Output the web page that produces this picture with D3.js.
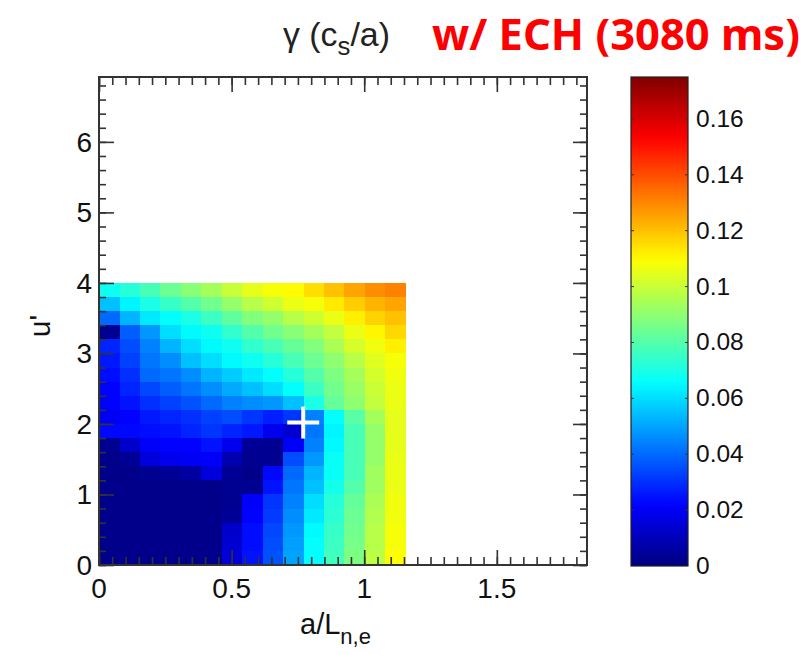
<!DOCTYPE html>
<html>
<head>
<meta charset="utf-8">
<script src="https://cdn.jsdelivr.net/npm/d3@7"></script>
<style>
  html, body { margin: 0; padding: 0; background: #fff; }
  svg { display: block; }
</style>
</head>
<body>
<svg id="chart" width="811" height="654"></svg>
<script>
// ---- data ----
// a/L_n,e cell centres (15 columns)
const xValues = [0.039, 0.116, 0.193, 0.270, 0.347, 0.424, 0.501, 0.578, 0.655, 0.732, 0.810, 0.887, 0.964, 1.041, 1.118];
// u' cell centres, top row first (20 rows)
const uValues = [3.9, 3.7, 3.5, 3.3, 3.1, 2.9, 2.7, 2.5, 2.3, 2.1, 1.9, 1.7, 1.5, 1.3, 1.1, 0.9, 0.7, 0.5, 0.3, 0.1];
// growth rate gamma (c_s/a), rows follow uValues, columns follow xValues
const gamma = [
  [0.068,0.072,0.078,0.084,0.089,0.094,0.100,0.105,0.108,0.110,0.115,0.120,0.125,0.129,0.131],
  [0.055,0.064,0.070,0.075,0.080,0.085,0.091,0.097,0.101,0.106,0.108,0.113,0.118,0.122,0.125],
  [0.040,0.053,0.062,0.066,0.070,0.076,0.082,0.088,0.091,0.097,0.101,0.106,0.112,0.117,0.120],
  [0.003,0.038,0.048,0.060,0.065,0.068,0.074,0.080,0.085,0.089,0.094,0.099,0.106,0.111,0.116],
  [0.028,0.035,0.044,0.053,0.060,0.065,0.068,0.074,0.078,0.083,0.088,0.095,0.102,0.107,0.112],
  [0.026,0.033,0.042,0.046,0.055,0.060,0.065,0.068,0.072,0.078,0.084,0.090,0.097,0.104,0.108],
  [0.024,0.030,0.040,0.042,0.046,0.053,0.057,0.062,0.066,0.072,0.080,0.087,0.094,0.102,0.107],
  [0.022,0.028,0.034,0.038,0.042,0.046,0.051,0.055,0.060,0.066,0.076,0.085,0.092,0.100,0.106],
  [0.022,0.025,0.030,0.033,0.036,0.040,0.044,0.046,0.048,0.055,0.070,0.083,0.090,0.099,0.106],
  [0.020,0.022,0.026,0.028,0.030,0.033,0.035,0.031,0.027,0.031,0.044,0.066,0.081,0.094,0.105],
  [0.023,0.023,0.024,0.025,0.028,0.031,0.028,0.026,0.019,0.014,0.042,0.064,0.078,0.091,0.105],
  [0.003,0.013,0.021,0.022,0.022,0.025,0.019,0.004,0.003,0.021,0.044,0.065,0.078,0.091,0.105],
  [0.002,0.004,0.016,0.019,0.020,0.021,0.008,0.003,0.003,0.035,0.048,0.067,0.078,0.091,0.106],
  [0.002,0.002,0.003,0.004,0.006,0.016,0.004,0.002,0.023,0.040,0.053,0.067,0.078,0.093,0.106],
  [0.002,0.002,0.002,0.002,0.002,0.002,0.003,0.003,0.025,0.042,0.055,0.069,0.080,0.093,0.106],
  [0.002,0.002,0.002,0.002,0.002,0.002,0.003,0.021,0.031,0.044,0.060,0.072,0.083,0.095,0.107],
  [0.002,0.002,0.002,0.002,0.002,0.002,0.004,0.022,0.032,0.046,0.062,0.073,0.084,0.096,0.107],
  [0.002,0.002,0.002,0.002,0.002,0.002,0.013,0.024,0.034,0.048,0.065,0.075,0.085,0.097,0.108],
  [0.002,0.002,0.002,0.002,0.002,0.002,0.014,0.024,0.035,0.049,0.066,0.076,0.086,0.097,0.108],
  [0.002,0.002,0.002,0.002,0.002,0.002,0.015,0.025,0.036,0.050,0.066,0.077,0.087,0.098,0.109]
];
// marked operating point
const markerPoint = [0.770, 2.02];
// axis ticks
const xTicks = [0, 0.5, 1, 1.5];
const yTicks = [0, 1, 2, 3, 4, 5, 6];
const cbTicks = [0, 0.02, 0.04, 0.06, 0.08, 0.1, 0.12, 0.14, 0.16];
const cbTickLabels = ["0", "0.02", "0.04", "0.06", "0.08", "0.1", "0.12", "0.14", "0.16"];
const xDomain = [0, 1.84];
const yDomain = [0, 6.92];
const cDomain = [0, 0.175];
const titleText = "w/ ECH (3080 ms)";

// ---- jet colormap ----
function jet(t) {
  t = Math.max(0, Math.min(1, t));
  const c = v => Math.round(255 * Math.max(0, Math.min(1, v)));
  const r = 1.5 - Math.abs(4 * t - 3);
  const g = 1.5 - Math.abs(4 * t - 2);
  const b = 1.5 - Math.abs(4 * t - 1);
  return `rgb(${c(r)},${c(g)},${c(b)})`;
}

const svg = d3.select("#chart");
const frame = { left: 99, right: 587, top: 77, bottom: 565 };
const x = d3.scaleLinear().domain(xDomain).range([frame.left, frame.right]);
const y = d3.scaleLinear().domain(yDomain).range([frame.bottom, frame.top]);
const cNorm = d3.scaleLinear().domain(cDomain).range([0, 1]).clamp(true);
const color = v => jet(cNorm(v));

const dx = xValues[1] - xValues[0];
const du = uValues[0] - uValues[1];

// heatmap cells
const cells = [];
gamma.forEach((row, i) => row.forEach((v, j) => cells.push({ x: xValues[j], u: uValues[i], v })));
svg.append("g").selectAll("rect").data(cells).join("rect")
  .attr("x", d => x(d.x - dx / 2))
  .attr("y", d => y(d.u + du / 2))
  .attr("width", d => x(d.x + dx / 2) - x(d.x - dx / 2) + 0.5)
  .attr("height", d => y(d.u - du / 2) - y(d.u + du / 2) + 0.5)
  .attr("fill", d => color(d.v))
  .attr("shape-rendering", "crispEdges");

// marker cross
const cross = svg.append("g").attr("stroke", "#fff").attr("stroke-width", 4);
cross.append("line")
  .attr("x1", x(markerPoint[0]) - 16).attr("x2", x(markerPoint[0]) + 16)
  .attr("y1", y(markerPoint[1])).attr("y2", y(markerPoint[1]));
cross.append("line")
  .attr("x1", x(markerPoint[0])).attr("x2", x(markerPoint[0]))
  .attr("y1", y(markerPoint[1]) - 16).attr("y2", y(markerPoint[1]) + 16);

// axes (ticks inward, all four sides)
const axisColor = "#333";
const fontFam = "'Liberation Sans', Arial, Helvetica, sans-serif";
const xMinor = d3.range(0, xDomain[1] + 1e-9, 0.05);
const yMinor = d3.range(0, yDomain[1] + 1e-9, 0.2);

function styleAxis(g) {
  g.select(".domain").remove();
  g.selectAll("line").attr("stroke", axisColor).attr("stroke-width", 1.6);
}
// bottom
svg.append("g").attr("transform", `translate(0,${frame.bottom})`)
  .call(d3.axisTop(x).tickValues(xMinor).tickSize(8).tickFormat(""))
  .call(styleAxis);
svg.append("g").attr("transform", `translate(0,${frame.bottom})`)
  .call(d3.axisTop(x).tickValues(xTicks).tickSize(15).tickFormat(""))
  .call(styleAxis);
// top
svg.append("g").attr("transform", `translate(0,${frame.top})`)
  .call(d3.axisBottom(x).tickValues(xMinor).tickSize(8).tickFormat(""))
  .call(styleAxis);
svg.append("g").attr("transform", `translate(0,${frame.top})`)
  .call(d3.axisBottom(x).tickValues(xTicks).tickSize(15).tickFormat(""))
  .call(styleAxis);
// left
svg.append("g").attr("transform", `translate(${frame.left},0)`)
  .call(d3.axisRight(y).tickValues(yMinor).tickSize(7).tickFormat(""))
  .call(styleAxis);
svg.append("g").attr("transform", `translate(${frame.left},0)`)
  .call(d3.axisRight(y).tickValues(yTicks).tickSize(15).tickFormat(""))
  .call(styleAxis);
// right
svg.append("g").attr("transform", `translate(${frame.right},0)`)
  .call(d3.axisLeft(y).tickValues(yMinor).tickSize(7).tickFormat(""))
  .call(styleAxis);
svg.append("g").attr("transform", `translate(${frame.right},0)`)
  .call(d3.axisLeft(y).tickValues(yTicks).tickSize(14).tickFormat(""))
  .call(styleAxis);

// frame
svg.append("rect")
  .attr("x", frame.left).attr("y", frame.top)
  .attr("width", frame.right - frame.left).attr("height", frame.bottom - frame.top)
  .attr("fill", "none").attr("stroke", axisColor).attr("stroke-width", 2);

// tick labels
svg.append("g").selectAll("text").data(xTicks).join("text")
  .attr("x", d => x(d)).attr("y", frame.bottom + 33)
  .attr("text-anchor", "middle")
  .attr("font-family", fontFam).attr("font-size", 28).attr("fill", "#111")
  .text(d => d3.format("")(d));
svg.append("g").selectAll("text").data(yTicks).join("text")
  .attr("x", frame.left - 7).attr("y", d => y(d) + 10)
  .attr("text-anchor", "end")
  .attr("font-family", fontFam).attr("font-size", 28).attr("fill", "#111")
  .text(d => d);

// axis titles
const xl = svg.append("text")
  .attr("x", 300).attr("y", 634)
  .attr("font-family", fontFam).attr("font-size", 29).attr("fill", "#111");
xl.append("tspan").text("a/L");
xl.append("tspan").attr("font-size", 22).attr("dy", 10).text("n,e");

svg.append("text")
  .attr("transform", "translate(50,326) rotate(-90)")
  .attr("text-anchor", "middle")
  .attr("font-family", fontFam).attr("font-size", 30).attr("fill", "#111")
  .text("u'");

// colour bar
const cb = { left: 631, right: 688, top: 77, bottom: 566 };
const cy = d3.scaleLinear().domain(cDomain).range([cb.bottom, cb.top]);
const defs = svg.append("defs");
const grad = defs.append("linearGradient").attr("id", "jetgrad")
  .attr("x1", 0).attr("y1", 1).attr("x2", 0).attr("y2", 0);
d3.range(0, 1.0001, 0.02).forEach(t => {
  grad.append("stop").attr("offset", t).attr("stop-color", jet(t));
});
svg.append("rect")
  .attr("x", cb.left).attr("y", cb.top)
  .attr("width", cb.right - cb.left).attr("height", cb.bottom - cb.top)
  .attr("fill", "url(#jetgrad)")
  .attr("stroke", "#222").attr("stroke-width", 1.2);
const cbg = svg.append("g");
cbg.selectAll("line.l").data(cbTicks.slice(1)).join("line")
  .attr("x1", cb.left).attr("x2", cb.left + 3)
  .attr("y1", d => cy(d)).attr("y2", d => cy(d))
  .attr("stroke", "#333").attr("stroke-width", 1);
cbg.selectAll("line.r").data(cbTicks.slice(1)).join("line")
  .attr("x1", cb.right - 3).attr("x2", cb.right)
  .attr("y1", d => cy(d)).attr("y2", d => cy(d))
  .attr("stroke", "#333").attr("stroke-width", 1);
svg.append("g").selectAll("text").data(cbTicks).join("text")
  .attr("x", cb.right + 8).attr("y", d => cy(d) + 8)
  .attr("font-family", fontFam).attr("font-size", 24.5).attr("fill", "#111")
  .text((d, i) => cbTickLabels[i]);

// titles
const gt = svg.append("text")
  .attr("x", 283).attr("y", 46)
  .attr("font-family", fontFam).attr("font-size", 25).attr("fill", "#222");
gt.append("tspan").text("γ (c");
gt.append("tspan").attr("font-size", 19).attr("dy", 9).text("s");
gt.append("tspan").attr("dy", -9).text("/a)");
const gw = gt.node().getComputedTextLength();
const gs = 107 / gw;
gt.attr("font-size", 25 * gs);
gt.selectAll("tspan").filter((d, i) => i === 1).attr("font-size", 19 * gs);

const rt = svg.append("text")
  .attr("x", 432).attr("y", 50)
  .attr("font-family", "'Noto Sans', 'Open Sans', sans-serif")
  .attr("font-weight", "bold").attr("font-size", 34).attr("fill", "#f00")
  .text(titleText);
// fit the red title to its span in the reference
const w = rt.node().getComputedTextLength();
rt.attr("font-size", 34 * 368 / w);
</script>
</body>
</html>
